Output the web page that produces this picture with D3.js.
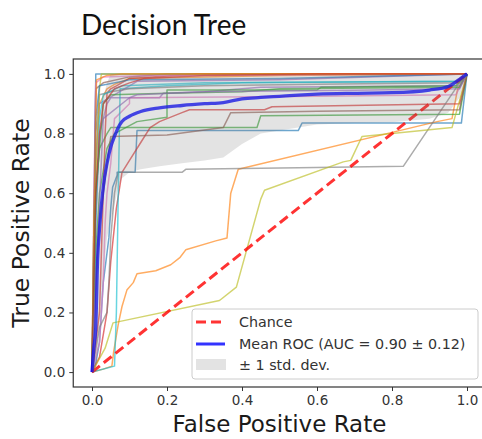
<!DOCTYPE html>
<html><head><meta charset="utf-8">
<script src="https://cdn.jsdelivr.net/npm/d3@7"></script>
<style>body{margin:0;background:#fff}svg{display:block}</style>
</head><body><svg id="c" width="482" height="439"></svg>
<script>
const chartTitle = "Decision Tree";
const xLabel = "False Positive Rate";
const yLabel = "True Positive Rate";
const tickValues = [0, 0.2, 0.4, 0.6, 0.8, 1.0];
const foldColors = ["#1f77b4","#ff7f0e","#2ca02c","#d62728","#9467bd","#8c564b","#e377c2","#7f7f7f","#bcbd22","#17becf"];
const legendLabels = ["Chance", "Mean ROC (AUC = 0.90 \u00b1 0.12)", "\u00b1 1 std. dev."];

// per-fold ROC curves: [fpr, tpr]
const rocFolds = [
 [[0,0],[0.01,0.03],[0.02,0.1],[0.03,0.3],[0.045,0.45],[0.05,0.55],[0.055,0.62],[0.067,0.66],[0.067,0.67],[0.115,0.67],[0.12,0.81],[0.55,0.81],[0.56,0.835],[0.985,0.835],[1,1]],
 [[0,0],[0.03,0.01],[0.053,0.02],[0.058,0.07],[0.07,0.16],[0.08,0.22],[0.093,0.275],[0.11,0.3],[0.12,0.33],[0.17,0.34],[0.21,0.36],[0.235,0.385],[0.25,0.41],[0.33,0.44],[0.36,0.45],[0.37,0.6],[0.39,0.68],[0.92,0.84],[0.96,0.85],[0.975,0.95],[1,1]],
 [[0,0],[0.005,0.3],[0.01,0.6],[0.02,0.75],[0.04,0.8],[0.05,0.82],[0.44,0.82],[0.45,0.86],[0.98,0.865],[1,1]],
 [[0,0],[0.02,0.05],[0.04,0.2],[0.05,0.37],[0.065,0.55],[0.08,0.67],[0.1,0.71],[0.13,0.77],[0.155,0.82],[0.18,0.84],[0.24,0.87],[0.26,0.88],[0.46,0.88],[0.48,0.89],[0.98,0.9],[1,1]],
 [[0,0],[0.01,0.5],[0.02,0.8],[0.04,0.9],[0.05,0.92],[0.18,0.92],[0.19,0.935],[0.3,0.94],[0.45,0.955],[0.98,0.96],[1,1]],
 [[0,0],[0.005,0.4],[0.008,0.8],[0.01,0.95],[0.03,0.97],[0.1,0.99],[0.2,1],[1,1]],
 [[0,0],[0.02,0.1],[0.03,0.3],[0.035,0.5],[0.04,0.6],[0.05,0.7],[0.06,0.85],[0.1,0.9],[0.1,0.92],[0.6,0.925],[0.97,0.93],[1,1]],
 [[0,0],[0.02,0.15],[0.04,0.2],[0.045,0.3],[0.05,0.45],[0.06,0.6],[0.07,0.67],[0.24,0.67],[0.25,0.68],[0.55,0.685],[0.83,0.69],[0.98,0.97],[1,1]],
 [[0,0],[0.035,0.08],[0.056,0.165],[0.34,0.24],[0.385,0.285],[0.45,0.58],[0.46,0.61],[0.67,0.705],[0.69,0.71],[0.72,0.79],[0.96,0.82],[1,1]],
 [[0,0],[0.06,0.02],[0.065,0.2],[0.07,0.6],[0.075,0.95],[0.2,0.96],[0.4,0.97],[0.98,0.975],[1,1]],
 [[0,0],[0.005,0.5],[0.01,0.99],[0.01,1],[1,1]],
 [[0,0],[0.005,0.3],[0.01,0.7],[0.02,0.9],[0.04,0.95],[0.06,0.965],[0.1,0.985],[0.3,0.99],[0.5,0.995],[1,1]],
 [[0,0],[0.01,0.4],[0.02,0.6],[0.04,0.75],[0.06,0.8],[0.12,0.84],[0.2,0.855],[0.2,0.946],[0.6,0.946],[0.61,0.955],[0.97,0.96],[1,1]],
 [[0,0],[0.02,0.2],[0.03,0.6],[0.035,0.8],[0.04,0.935],[0.05,0.95],[0.065,0.96],[0.1,0.985],[0.28,1],[1,1]],
 [[0,0],[0.01,0.7],[0.02,0.9],[0.1,0.96],[0.12,0.975],[0.5,0.98],[1,1]],
 [[0,0],[0.01,0.3],[0.02,0.5],[0.04,0.7],[0.05,0.79],[0.2,0.795],[0.35,0.82],[0.37,0.87],[0.6,0.875],[0.98,0.88],[1,1]],
 [[0,0],[0.005,0.6],[0.01,0.97],[0.03,0.99],[0.15,0.995],[1,1]],
 [[0,0],[0.01,0.8],[0.02,0.93],[0.05,0.94],[0.1,0.95],[0.3,0.96],[0.6,0.965],[0.98,0.97],[1,1]],
 [[0,0],[0.005,0.5],[0.02,0.95],[0.025,1],[1,1]],
 [[0,0],[0.01,0.5],[0.02,0.85],[0.03,0.93],[0.08,0.96],[0.3,0.97],[0.98,0.975],[1,1]],
 [[0,0],[0.01,0.85],[0.02,0.96],[0.1,0.98],[0.5,0.985],[1,1]],
 [[0,0],[0.005,0.5],[0.012,0.98],[0.04,0.995],[0.08,1],[1,1]],
 [[0,0],[0.01,0.6],[0.03,0.9],[0.05,0.93],[0.2,0.935],[0.4,0.94],[0.5,0.95],[0.98,0.955],[1,1]],
 [[0,0],[0.01,0.6],[0.02,0.8],[0.03,0.9],[0.06,0.95],[0.1,0.97],[0.14,0.985],[0.3,0.995],[0.6,1],[1,1]],
 [[0,0],[0.03,0.85],[0.1,0.92],[0.12,0.93],[0.3,0.94],[0.7,0.945],[0.98,0.95],[1,1]]
];

const meanFpr = [0,0.005,0.01,0.015,0.02,0.03,0.04,0.05,0.06,0.07,0.08,0.1,0.13,0.18,0.24,0.3,0.35,0.4,0.45,0.5,0.55,0.6,0.7,0.8,0.9,0.95,0.98,1];
const meanTpr = [0,0.08,0.15,0.38,0.48,0.62,0.7,0.755,0.79,0.82,0.84,0.858,0.874,0.886,0.894,0.9,0.904,0.916,0.921,0.925,0.929,0.932,0.935,0.937,0.946,0.958,0.982,1];
const stdUpper = [0,0.3,0.45,0.7,0.8,0.92,0.97,1,1,1,1,1,1,1,1,1,1,1,1,1,1,1,1,1,1,1,1,1];
const stdLower = [0,0,0,0.06,0.16,0.32,0.45,0.51,0.56,0.62,0.65,0.67,0.68,0.69,0.7,0.71,0.72,0.765,0.8,0.81,0.82,0.83,0.835,0.838,0.85,0.87,0.92,1];
const chanceLine = [[0,0],[1,1]];

const svg = d3.select("#c");
const x = d3.scaleLinear().domain([-0.05, 1.05]).range([73.25, 485.75]);
const y = d3.scaleLinear().domain([-0.05, 1.05]).range([387, 59]);

svg.append("clipPath").attr("id","clp").append("rect")
  .attr("x", x(-0.05)).attr("y", y(1.05)).attr("width", x(1.05)-x(-0.05)).attr("height", y(-0.05)-y(1.05));
const plot = svg.append("g").attr("clip-path","url(#clp)");

const line = d3.line().x(d=>x(d[0])).y(d=>y(d[1]));
const smooth = d3.line().x(d=>x(d[0])).y(d=>y(d[1])).curve(d3.curveMonotoneX);

rocFolds.forEach((f,i)=>{
  plot.append("path").attr("d", line(f)).attr("fill","none")
    .attr("stroke", foldColors[i % 10]).attr("stroke-width",1.5).attr("stroke-opacity",0.65)
    .attr("stroke-linejoin","round");
});

plot.append("path").attr("d", line(chanceLine)).attr("fill","none")
  .attr("stroke","#ff0000").attr("stroke-opacity",0.8).attr("stroke-width",3)
  .attr("stroke-dasharray","10,5");

plot.append("path").attr("d", smooth(meanFpr.map((v,i)=>[v, meanTpr[i]]))).attr("fill","none")
  .attr("stroke","#0000ff").attr("stroke-opacity",0.8).attr("stroke-width",3.3).attr("stroke-linejoin","round");

const area = d3.area().x((d,i)=>x(meanFpr[i])).y0((d,i)=>y(stdLower[i])).y1((d,i)=>y(stdUpper[i]));
plot.append("path").attr("d", area(meanFpr)).attr("fill","#808080").attr("fill-opacity",0.22);

// axes
const xAxis = d3.axisBottom(x).tickValues(tickValues).tickFormat(d3.format(".1f")).tickSize(4).tickPadding(4);
const yAxis = d3.axisLeft(y).tickValues(tickValues).tickFormat(d3.format(".1f")).tickSize(4).tickPadding(4);
const gx = svg.append("g").attr("transform",`translate(0,${y(-0.05)})`).call(xAxis);
const gy = svg.append("g").attr("transform",`translate(${x(-0.05)},0)`).call(yAxis);
[gx,gy].forEach(g=>{
  g.select(".domain").remove();
  g.selectAll(".tick line").attr("stroke","#333").attr("stroke-width",1);
  g.selectAll(".tick text").attr("fill","#333").style("font-family","DejaVu Sans").style("font-size","13.5px");
});
// spines
svg.append("rect").attr("x", x(-0.05)).attr("y", y(1.05)).attr("width", x(1.05)-x(-0.05)).attr("height", y(-0.05)-y(1.05))
  .attr("fill","none").attr("stroke","#333").attr("stroke-width",1.2);

svg.append("text").attr("x", (x(0)+x(1))/2).attr("y", 432).attr("text-anchor","middle")
  .style("font-family","DejaVu Sans").style("font-size","23px").attr("fill","#1a1a1a").text(xLabel);
svg.append("text").attr("transform",`translate(29,${(y(0)+y(1))/2}) rotate(-90)`).attr("text-anchor","middle")
  .style("font-family","DejaVu Sans").style("font-size","23.5px").attr("fill","#1a1a1a").text(yLabel);

svg.append("text").attr("x", 81).attr("y", 35).style("font-family","Lato").style("font-size","28px")
  .attr("fill","#111").text(chartTitle);

// legend
const lg = svg.append("g");
lg.append("rect").attr("x",192).attr("y",309).attr("width",286).attr("height",70).attr("rx",3)
  .attr("fill","#fff").attr("fill-opacity",0.8).attr("stroke","#cccccc");
const rows = [322, 344, 365];
lg.append("line").attr("x1",196).attr("x2",225).attr("y1",rows[0]).attr("y2",rows[0])
  .attr("stroke","#ff0000").attr("stroke-opacity",0.8).attr("stroke-width",3).attr("stroke-dasharray","10,5");
lg.append("line").attr("x1",196).attr("x2",225).attr("y1",rows[1]).attr("y2",rows[1])
  .attr("stroke","#0000ff").attr("stroke-opacity",0.8).attr("stroke-width",3);
lg.append("rect").attr("x",196).attr("y",rows[2]-6).attr("width",30).attr("height",11)
  .attr("fill","#808080").attr("fill-opacity",0.22);
legendLabels.forEach((t,i)=>{
  lg.append("text").attr("x",239).attr("y",rows[i]+5).style("font-family","DejaVu Sans").style("font-size","14.3px")
    .attr("fill","#333").text(t);
});
</script></body></html>
